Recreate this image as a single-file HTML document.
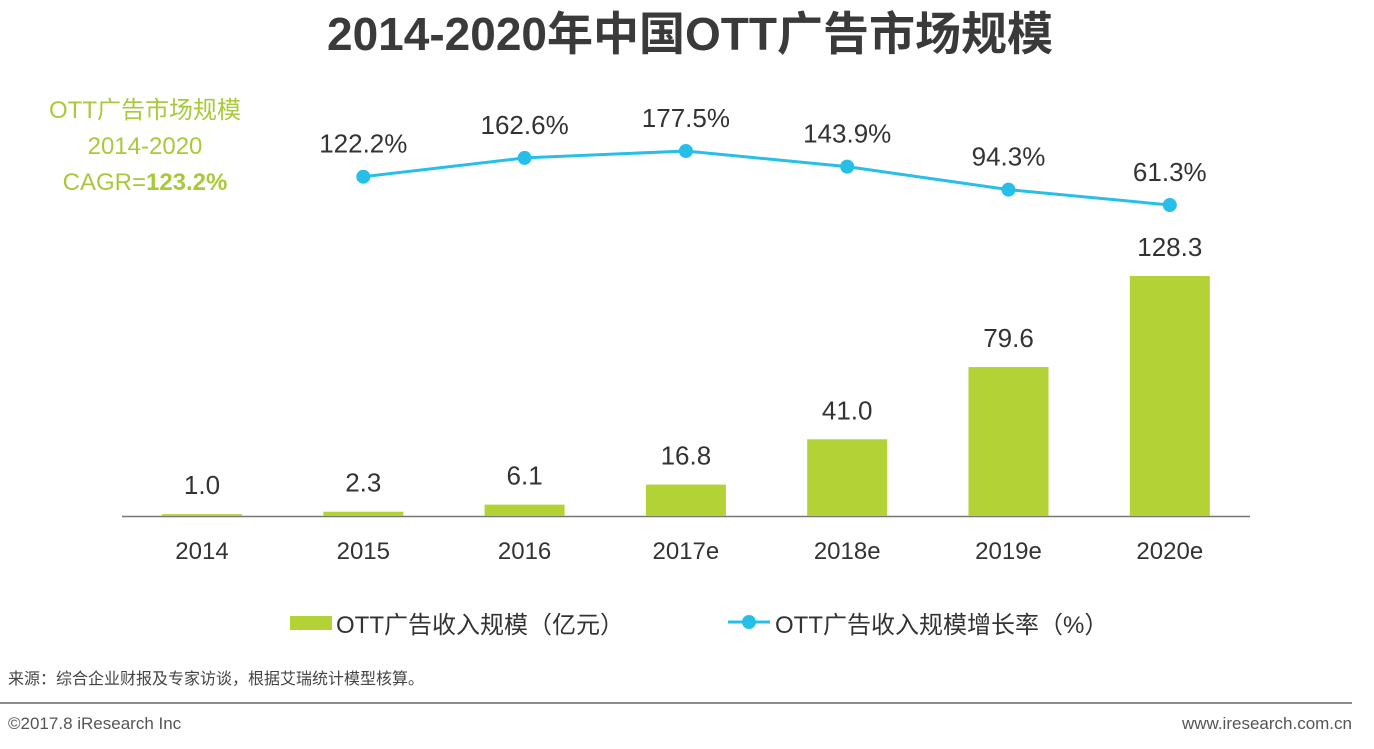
<!DOCTYPE html>
<html><head><meta charset="utf-8"><style>
body{margin:0;width:1374px;height:744px;background:#fff;overflow:hidden;font-family:"Liberation Sans","Noto Sans CJK SC",sans-serif;}
svg text{font-family:"Liberation Sans","Noto Sans CJK SC",sans-serif;}
</style></head><body>
<svg id="chart" width="1374" height="744" xmlns="http://www.w3.org/2000/svg">
<text x="690" y="50" text-anchor="middle" font-size="46" font-weight="bold" fill="#3a3a3a">2014-2020年中国OTT广告市场规模</text>
<g fill="#a9c93c" font-size="24" text-anchor="middle">
<text x="145" y="118">OTT广告市场规模</text>
<text x="145" y="154">2014-2020</text>
<text x="145" y="190">CAGR=<tspan font-weight="bold">123.2%</tspan></text>
</g>
<line x1="122" y1="516.5" x2="1250" y2="516.5" stroke="#777" stroke-width="1.5"/>
<g id="bars"></g><g id="line"></g><g id="labels"></g>
<g>
<rect x="290" y="616" width="42" height="14" fill="#b2d235"/>
<text x="336" y="633" font-size="24" fill="#333">OTT广告收入规模（亿元）</text>
<line x1="728" y1="622" x2="770" y2="622" stroke="#27bfe8" stroke-width="3"/>
<circle cx="749" cy="622" r="7" fill="#27bfe8"/>
<text x="775" y="633" font-size="24" fill="#333">OTT广告收入规模增长率（%）</text>
</g>
<text x="8" y="684" font-size="16" fill="#444">来源：综合企业财报及专家访谈，根据艾瑞统计模型核算。</text>
<line x1="0" y1="703" x2="1352" y2="703" stroke="#666" stroke-width="1.5"/>
<text x="8" y="729" font-size="17" fill="#555">©2017.8 iResearch Inc</text>
<text x="1352" y="729" font-size="17" fill="#555" text-anchor="end">www.iresearch.com.cn</text>
</svg>
<script>
const categories=["2014","2015","2016","2017e","2018e","2019e","2020e"];
const barValues=[1.0,2.3,6.1,16.8,41.0,79.6,128.3];
const barLabels=["1.0","2.3","6.1","16.8","41.0","79.6","128.3"];
const growthValues=[null,122.2,162.6,177.5,143.9,94.3,61.3];
const growthLabels=["","122.2%","162.6%","177.5%","143.9%","94.3%","61.3%"];
const NS="http://www.w3.org/2000/svg";
const xPos=i=>202+i*161.3;
const yBar=v=>516-v*1.871;
const yLine=v=>205-(v-61.3)*0.4647;
function mk(t,a,p){const e=document.createElementNS(NS,t);for(const k in a)e.setAttribute(k,a[k]);p.appendChild(e);return e;}
const gb=document.getElementById('bars'),gl=document.getElementById('line'),gt=document.getElementById('labels');
categories.forEach((c,i)=>{
 const r=mk('rect',{x:xPos(i)-40,y:yBar(barValues[i]),width:80,height:516-yBar(barValues[i]),fill:'#b2d235'},gb);
 
 
 const t=mk('text',{x:xPos(i),y:yBar(barValues[i])-20,'text-anchor':'middle','font-size':26,fill:'#333'},gt);t.textContent=barLabels[i];
 
 
 const x=mk('text',{x:xPos(i),y:559,'text-anchor':'middle','font-size':24,fill:'#333'},gt);x.textContent=c;
 
 
});
const pts=[];growthValues.forEach((v,i)=>{if(v!==null)pts.push([xPos(i),yLine(v),i]);});
const pl=mk('polyline',{points:pts.map(p=>p[0]+','+p[1]).join(' '),fill:'none',stroke:'#27bfe8','stroke-width':3},gl);


pts.forEach(p=>{
 const c=mk('circle',{cx:p[0],cy:p[1],r:7,fill:'#27bfe8'},gl);
 
 
 const t=mk('text',{x:p[0],y:p[1]-24,'text-anchor':'middle','font-size':26,fill:'#333'},gt);t.textContent=growthLabels[p[2]];
 
 
});
</script>
</body></html>
